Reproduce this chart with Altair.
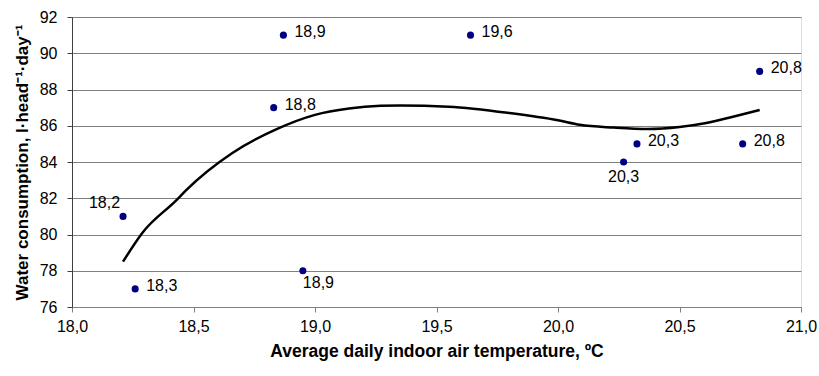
import altair as alt
import pandas as pd

# Data points (temperature, water consumption) and their labels
temp = [18.21, 18.26, 18.83, 18.87, 18.95, 19.64, 20.27, 20.325, 20.76, 20.83]
water = [81, 77, 87, 91, 78, 91, 84, 85, 85, 89]
labels = ["18,2", "18,3", "18,8", "18,9", "18,9", "19,6", "20,3", "20,3", "20,8", "20,8"]
label_group = ["above_left", "right", "right", "right", "below_right", "right",
               "below", "right", "right", "right"]

# Trend line
trend_x = [18.21, 18.29, 18.43, 18.47, 18.66, 18.84, 19.0, 19.14, 19.27, 19.35,
           19.55, 19.8, 20.0, 20.09, 20.23, 20.37, 20.5, 20.61, 20.72, 20.83]
trend_y = [78.5, 80.1, 81.9, 82.45, 84.5, 85.8, 86.6, 86.95, 87.1, 87.12,
           87.05, 86.7, 86.3, 86.05, 85.9, 85.82, 85.93, 86.15, 86.5, 86.87]

x_ticks = [18, 18.5, 19, 19.5, 20, 20.5, 21]
y_ticks = [76, 78, 80, 82, 84, 86, 88, 90, 92]

pts = pd.DataFrame({"t": temp, "w": water, "lab": labels, "grp": label_group})
trend = pd.DataFrame({"t": trend_x, "w": trend_y})

FONT = "Liberation Sans"

x_enc = alt.X("t:Q", scale=alt.Scale(domain=[18, 21], nice=False, zero=False),
              axis=alt.Axis(values=x_ticks,
                            labelExpr="replace(format(datum.value, '.1f'), '.', ',')",
                            title="Average daily indoor air temperature, ºC",
                            grid=False, domainColor="#808080", tickColor="#808080",
                            tickSize=5, labelPadding=6, titlePadding=8,
                            labelOverlap=False, labelFlush=False,
                            labelFontSize=16, titleFontSize=17.5, titleFontWeight="bold",
                            labelColor="#000000", titleColor="#000000",
                            labelFont=FONT, titleFont=FONT))
y_enc = alt.Y("w:Q", scale=alt.Scale(domain=[76, 92], nice=False, zero=False),
              axis=alt.Axis(values=y_ticks,
                            title="Water consumption, l·head⁻¹·day⁻¹",
                            grid=True, gridColor="#808080", gridWidth=1,
                            domainColor="#404040", tickColor="#404040",
                            tickSize=5, labelPadding=10, titlePadding=8,
                            labelOverlap=False, labelFlush=False,
                            labelFontSize=16, titleFontSize=17, titleFontWeight="bold",
                            labelColor="#000000", titleColor="#000000",
                            labelFont=FONT, titleFont=FONT))

base = alt.Chart(pts)

line = alt.Chart(trend).mark_line(color="#000000", strokeWidth=2.5, interpolate="monotone").encode(
    x=x_enc, y=y_enc)

points = base.mark_circle(size=50, color="#000080", opacity=1).encode(x=x_enc, y=y_enc)

def lbl(grp, align, baseline, dx, dy):
    return base.transform_filter(alt.datum.grp == grp).mark_text(
        align=align, baseline=baseline, dx=dx, dy=dy, fontSize=16, font=FONT, color="#000000"
    ).encode(x=x_enc, y=y_enc, text="lab:N")

texts = (lbl("right", "left", "middle", 11, -3)
         + lbl("above_left", "right", "middle", -3, -13)
         + lbl("below", "center", "middle", 0, 15)
         + lbl("below_right", "left", "middle", 0, 12))

chart = alt.layer(line, points, texts).properties(
    width=729, height=290,
    autosize=alt.AutoSizeParams(type="none"),
    padding={"left": 72, "top": 17, "right": 18, "bottom": 69},
).configure_view(stroke=None).configure(background="#ffffff")

chart.save("out.html", embed_options={"renderer": "svg", "actions": False})
